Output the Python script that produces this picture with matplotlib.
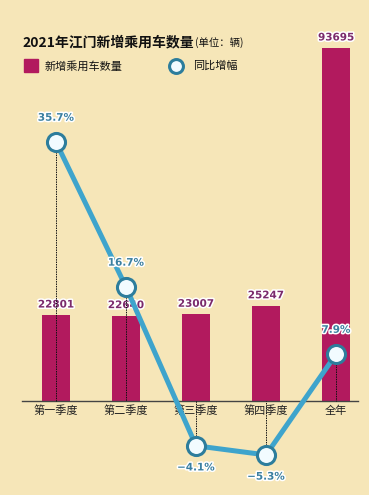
import matplotlib.pyplot as plt
import matplotlib.patheffects as pe

plt.rcParams['font.family'] = ['Noto Sans CJK SC', 'DejaVu Sans']

cats = ['第一季度', '第二季度', '第三季度', '第四季度', '全年']
cars = [22801, 22640, 23007, 25247, 93695]
growth = [35.7, 16.7, -4.1, -5.3, 7.9]
growth_lbl = ['35.7%', '16.7%', '−4.1%', '−5.3%', '7.9%']

bg = '#f6e6b8'
barc = '#b21a5e'
linec = '#3ea4cc'
edgec = '#2d7d9c'

fig = plt.figure(figsize=(3.69, 4.95), dpi=100, facecolor=bg)
ax = fig.add_axes([22/369, 94/495, 336/369, 371/495])
ax.set_facecolor('none')
x = list(range(len(cats)))
ax.bar(x, cars, width=0.41, color=barc, zorder=2)
ax.set_xlim(-0.486, 4.314)
ax.set_ylim(0, 98470)
for s in ['top', 'right', 'left']:
    ax.spines[s].set_visible(False)
ax.spines['bottom'].set_color('#444444')
ax.spines['bottom'].set_linewidth(1.0)
ax.set_yticks([])
ax.set_xticks(x)
ax.set_xticklabels(cats, fontsize=8, color='#222222')
ax.tick_params(axis='x', length=0, pad=3)

stroke = [pe.withStroke(linewidth=2.2, foreground='white')]
for xi, v in zip(x, cars):
    ax.annotate(str(v), (xi, v), xytext=(0, 4), textcoords='offset points',
                ha='center', va='bottom', fontsize=7.5, fontweight='bold',
                color='#7b2a6c', path_effects=stroke, family='DejaVu Sans', zorder=3)

# growth line on its own scale
ax2 = ax.twinx()
ax2.set_ylim(1.77, 50.4)
ax2.axis('off')
base = ax2.get_ylim()[0]
for xi, g in zip(x, growth):
    ax2.plot([xi, xi], [g, base], color='#111111', lw=0.7, ls=(0, (1.5, 1)),
             clip_on=False, zorder=1)
ax2.plot(x, growth, color=linec, lw=3.6, marker='o', markersize=13,
         markerfacecolor='#f2fbff', markeredgecolor=edgec, markeredgewidth=2.2,
         clip_on=False, zorder=4)
offs = [14, 14, -12, -12, 14]
for xi, g, t, o in zip(x, growth, growth_lbl, offs):
    ax2.annotate(t, (xi, g), xytext=(0, o), textcoords='offset points',
                 ha='center', va='bottom' if o > 0 else 'top', fontsize=7.5,
                 fontweight='bold', color='#3a7fa0', path_effects=stroke,
                 family='DejaVu Sans', zorder=5, annotation_clip=False)

# title
title = fig.text(22/369, 1 - 42/495, '2021年江门新增乘用车数量', fontsize=10,
                 fontweight='bold', color='#111111', va='center', ha='left')
ax.annotate('(单位：辆)', xy=(1, 0.45), xycoords=title, xytext=(1, 0),
            textcoords='offset points', fontsize=7.5, color='#111111',
            va='center', ha='left', annotation_clip=False)

# legend
fig.patches.append(plt.Rectangle((24/369, 1 - 72/495), 14/369, 13/495,
                                 transform=fig.transFigure, color=barc))
fig.text(45/369, 1 - 66/495, '新增乘用车数量', fontsize=8, color='#111111',
         va='center', ha='left')
fig.lines.append(plt.Line2D([176/369], [1 - 66/495], transform=fig.transFigure,
                            marker='o', markersize=10, markerfacecolor='#f2fbff',
                            markeredgecolor=edgec, markeredgewidth=2.2, ls='none'))
fig.text(193/369, 1 - 66/495, '同比增幅', fontsize=8, color='#111111',
         va='center', ha='left')

fig.savefig('out.png', dpi=100, facecolor=bg)
